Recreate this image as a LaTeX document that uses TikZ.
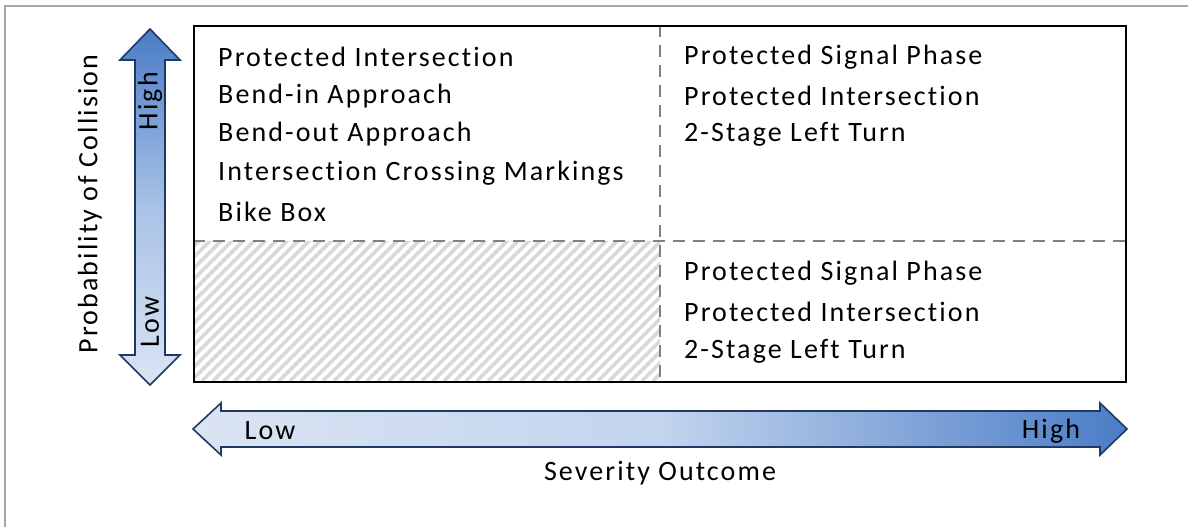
\documentclass[tikz,border=0pt]{standalone}
\usepackage{fontspec}
\setmainfont{Carlito}[LetterSpace=7.5, Ligatures={NoCommon}]
\definecolor{navy}{HTML}{203864}
\definecolor{darkblue}{HTML}{4A7CC6}
\definecolor{midblue}{HTML}{A9C2E6}
\definecolor{midblueh}{HTML}{C3D4EE}
\definecolor{lightblue}{HTML}{DAE4F3}
\definecolor{hatch}{HTML}{D9D9D9}
\definecolor{frame}{HTML}{A6A6A6}
\definecolor{divider}{HTML}{808080}
\begin{document}
\begin{tikzpicture}[x=1pt,y=-1pt,
  lbl/.style={font=\fontsize{28}{32}\selectfont, inner sep=0pt, text=black},
  item/.style={lbl, anchor=west},
  arrowshape/.style={draw=navy, line width=1.6pt, line join=miter},
  divline/.style={draw=divider, line width=1.6pt, dash pattern=on 12pt off 8pt}]
\useasboundingbox (0,0) rectangle (1188,527);
\fill[white] (0,0) rectangle (1188,527);
% outer frame
\draw[frame, line width=1.5pt] (5,540) -- (5,6) -- (1200,6);

% hatched low-low quadrant
\begin{scope}
\clip (193,241) rectangle (660,381);
\foreach \i in {-200,-189,...,700} {
  \draw[hatch, line width=3.8pt] (193+\i,381) -- (193+\i+160,221);
}
\end{scope}

% dividers
\coordinate (vt) at (660,25);
\coordinate (vb) at (660,381);
\coordinate (hl) at (193,241);
\coordinate (hr) at (1125,241);
\draw[divline] (vt) -- (vb);
\draw[divline] (hl) -- (hr);

% main box
\node[draw=black, line width=2pt, minimum width=932pt, minimum height=356pt, inner sep=0pt, anchor=north west] (box) at (193,25) {};

% vertical arrow
\shade[arrowshape, top color=darkblue, bottom color=lightblue, middle color=midblue]
  (150,29) -- (180,60) -- (165,60) -- (165,355) -- (180,355) -- (150,385)
  -- (120,355) -- (135,355) -- (135,60) -- (120,60) -- cycle;
% horizontal arrow
\shade[arrowshape, left color=lightblue, right color=darkblue, middle color=midblueh]
  (193,429) -- (221,403) -- (221,411) -- (1100,411) -- (1100,403) -- (1127,429)
  -- (1100,455) -- (1100,447) -- (221,447) -- (221,455) -- cycle;

\node[lbl, rotate=90] (vhigh) at (150,101) {High};
\node[lbl, rotate=90] (vlow) at (150,322) {Low};
\node[lbl, rotate=90] (ylab) at (90,204) {Probability of Collision};
\node[lbl] (hlow) at (270,431) {Low};
\node[lbl] (hhigh) at (1051,431) {High};
\node[lbl] (xlab) at (660,473) {Severity Outcome};

% quadrant texts
\node[item] (a1) at (218,57) {Protected Intersection};
\node[item] (a2) at (218,96) {Bend-in Approach};
\node[item] (a3) at (218,134) {Bend-out Approach};
\node[item] (a4) at (218,173) {Intersection Crossing Markings};
\node[item] (a5) at (218,212) {Bike Box};

\node[item] (b1) at (684,57) {Protected Signal Phase};
\node[item] (b2) at (684,96) {Protected Intersection};
\node[item] (b3) at (684,134) {2-Stage Left Turn};

\node[item] (c1) at (684,273) {Protected Signal Phase};
\node[item] (c2) at (684,312) {Protected Intersection};
\node[item] (c3) at (684,351) {2-Stage Left Turn};
\end{tikzpicture}
\end{document}
